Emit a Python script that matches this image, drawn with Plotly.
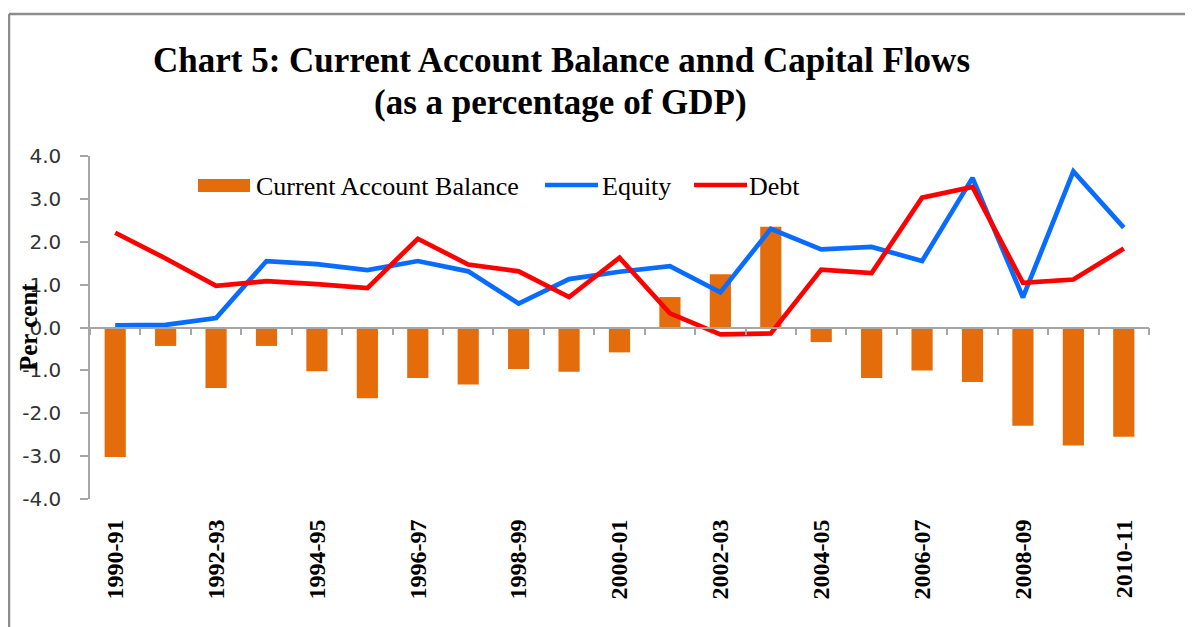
import plotly.graph_objects as go

years = ["1990-91", "1991-92", "1992-93", "1993-94", "1994-95", "1995-96", "1996-97",
         "1997-98", "1998-99", "1999-00", "2000-01", "2001-02", "2002-03", "2003-04",
         "2004-05", "2005-06", "2006-07", "2007-08", "2008-09", "2009-10", "2010-11"]
current_account = [-3.02, -0.43, -1.41, -0.43, -1.02, -1.65, -1.18, -1.33, -0.97, -1.03, -0.58,
                   0.71, 1.24, 2.35, -0.34, -1.18, -1.00, -1.27, -2.29, -2.75, -2.55]
equity = [0.05, 0.06, 0.22, 1.55, 1.48, 1.34, 1.55, 1.31, 0.56, 1.13, 1.30,
          1.43, 0.82, 2.30, 1.82, 1.88, 1.55, 3.49, 0.70, 3.64, 2.33]
debt = [2.21, 1.61, 0.97, 1.08, 1.01, 0.92, 2.07, 1.47, 1.31, 0.71, 1.63,
        0.33, -0.16, -0.14, 1.35, 1.27, 3.03, 3.28, 1.04, 1.12, 1.84]
label_years = years[::2]
y_tick_vals = [4, 3, 2, 1, 0, -1, -2, -3, -4]
y_tick_text = ["4.0", "3.0", "2.0", "1.0", "0.0", "-1.0", "-2.0", "-3.0", "-4.0"]

# page body has a default 8px margin: figure drawn from screen (8, 8)
OFF = 8
W, H = 1193 - OFF, 627 - OFF
# plot area in screen pixels
SX0, SX1, SY0, SY1 = 90, 1149, 156, 499
L, R = SX0 - OFF, W - (SX1 - OFF)
T, B = SY0 - OFF, H - (SY1 - OFF)
pw, ph = SX1 - SX0, SY1 - SY0

def px_x(x):
    return (x - SX0) / pw

def px_y(y):
    return (SY1 - y) / ph

ORANGE = "#E46C0A"
BLUE = "#0A6CFF"
RED = "#FF0000"

fig = go.Figure()
fig.add_trace(go.Bar(x=years, y=current_account, name="Current Account Balance",
                     marker=dict(color=ORANGE, line=dict(width=0))))
fig.add_trace(go.Scatter(x=years, y=equity, name="Equity", mode="lines",
                         line=dict(color=BLUE, width=4.7)))
fig.add_trace(go.Scatter(x=years, y=debt, name="Debt", mode="lines",
                         line=dict(color=RED, width=4.7)))
# helper trace for the category axis crossing at zero
fig.add_trace(go.Scatter(x=years, y=[None] * len(years), xaxis="x2", showlegend=False,
                         hoverinfo="skip", mode="lines"))

serif = "Liberation Serif, Times New Roman, serif"
legend_font = dict(family=serif, size=26, color="black")

annotations = [
    dict(text="<b>Chart 5: Current Account Balance annd Capital Flows</b>",
         xref="paper", yref="paper", x=px_x(561), y=px_y(61), xanchor="center",
         yanchor="middle", showarrow=False, font=dict(family=serif, size=35, color="black")),
    dict(text="<b>(as a percentage of GDP)</b>",
         xref="paper", yref="paper", x=px_x(560), y=px_y(103), xanchor="center",
         yanchor="middle", showarrow=False, font=dict(family=serif, size=35, color="black")),
    dict(text="<b>Per cent</b>", textangle=-90,
         xref="paper", yref="paper", x=px_x(28), y=px_y(327), xanchor="center",
         yanchor="middle", showarrow=False, font=dict(family=serif, size=25, color="black")),
    dict(text="Current Account Balance", xref="paper", yref="paper", x=px_x(254), y=px_y(186),
         xanchor="left", yanchor="middle", showarrow=False, font=legend_font),
    dict(text="Equity", xref="paper", yref="paper", x=px_x(600), y=px_y(186),
         xanchor="left", yanchor="middle", showarrow=False, font=legend_font),
    dict(text="Debt", xref="paper", yref="paper", x=px_x(747), y=px_y(186),
         xanchor="left", yanchor="middle", showarrow=False, font=legend_font),
]

shapes = [
    # chart frame
    dict(type="line", xref="paper", yref="paper", x0=px_x(9), x1=px_x(1200),
         y0=px_y(14), y1=px_y(14), line=dict(color="#8C8C8C", width=2.5)),
    dict(type="line", xref="paper", yref="paper", x0=px_x(9), x1=px_x(9),
         y0=px_y(14), y1=px_y(640), line=dict(color="#8C8C8C", width=2.5)),
    # legend swatches
    dict(type="rect", xref="paper", yref="paper", x0=px_x(198), x1=px_x(250),
         y0=px_y(179), y1=px_y(192), fillcolor=ORANGE, line=dict(width=0)),
    dict(type="line", xref="paper", yref="paper", x0=px_x(545), x1=px_x(598),
         y0=px_y(185), y1=px_y(185), line=dict(color=BLUE, width=4.7)),
    dict(type="line", xref="paper", yref="paper", x0=px_x(694), x1=px_x(747),
         y0=px_y(185), y1=px_y(185), line=dict(color=RED, width=4.7)),
]

fig.update_layout(
    width=W, height=H,
    margin=dict(l=L, r=R, t=T, b=B),
    paper_bgcolor="white", plot_bgcolor="white",
    bargap=0.58,
    showlegend=False,
    xaxis=dict(type="category", categoryorder="array", categoryarray=years,
               tickmode="array", tickvals=label_years, ticktext=label_years,
               tickangle=-90, showline=False, showgrid=False, zeroline=False,
               ticks="outside", ticklen=10, tickcolor="rgba(0,0,0,0)",
               tickfont=dict(family=serif, size=24, color="black", weight="bold"),
               range=[-0.5, len(years) - 0.5]),
    xaxis2=dict(type="category", overlaying="x", matches="x", anchor="free", position=0.5,
                side="bottom", showline=True, linecolor="#A6A6A6", linewidth=1.5,
                ticks="outside", tickson="boundaries", ticklen=7, tickcolor="#A6A6A6",
                tickwidth=1.5, showticklabels=False, showgrid=False, zeroline=False),
    yaxis=dict(range=[-4, 4], tickmode="array", tickvals=y_tick_vals, ticktext=y_tick_text,
               showgrid=False, zeroline=False, showline=True, linecolor="#A6A6A6",
               linewidth=1.5, ticks="outside", ticklen=8, tickcolor="#A6A6A6", tickwidth=1.5,
               ticklabelstandoff=15,
               tickfont=dict(family="DejaVu Sans, sans-serif", size=20, color="#333333")),
    annotations=annotations,
    shapes=shapes,
)

fig.write_html("out.html")
